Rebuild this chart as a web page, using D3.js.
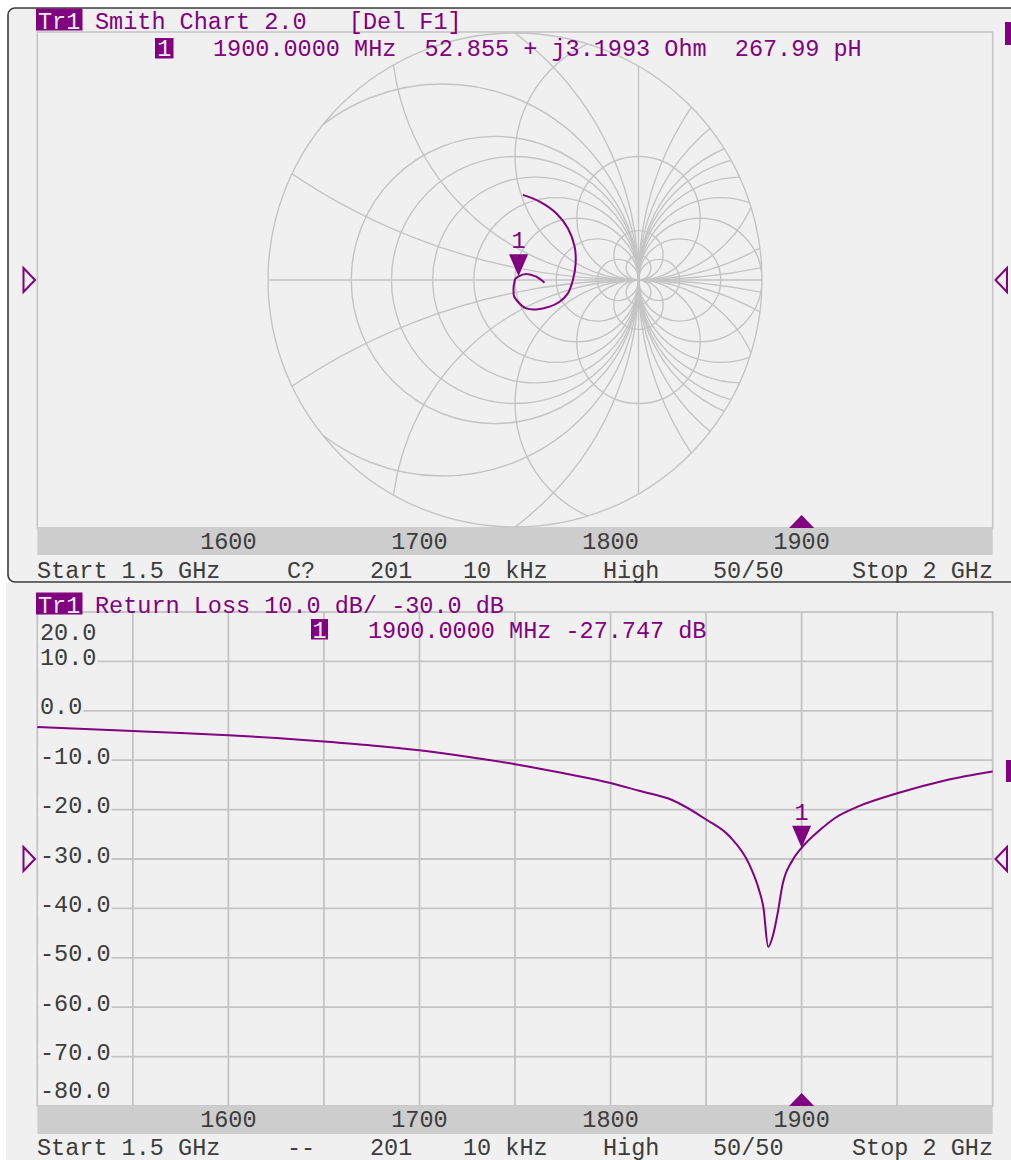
<!DOCTYPE html>
<html>
<head>
<meta charset="utf-8">
<script src="https://cdn.jsdelivr.net/npm/d3@7"></script>
<style>
  html, body { margin: 0; padding: 0; background: #ffffff; }
  svg { display: block; }
  text { white-space: pre; }
</style>
</head>
<body>
<svg id="chart" width="1011" height="1160"></svg>
<script>
// ---- sweep and axes ----
const startMHz = 1500;
const stopMHz = 2000;
const freqTicks = [1600, 1700, 1800, 1900];
const freqGrid = [1550, 1600, 1650, 1700, 1750, 1800, 1850, 1900, 1950];
const dbTicks = [20, 10, 0, -10, -20, -30, -40, -50, -60, -70, -80];
const refDb = -30;

// ---- return loss trace (MHz, dB) ----
const rlFreq = [1500, 1525, 1550, 1575, 1600, 1625, 1650, 1675, 1700, 1725, 1750, 1775,
                1800, 1815, 1832.5, 1850, 1862.5, 1872.5, 1877.5, 1880, 1882.5, 1885,
                1887.5, 1890, 1895, 1900, 1910, 1917.5, 1930, 1950, 1975, 2000];
const rlDb = [-3.3, -3.7, -4.1, -4.5, -4.95, -5.5, -6.2, -7.0, -8.0, -9.3, -10.8, -12.6,
              -14.6, -16.2, -18.1, -22.0, -25.5, -31.0, -36.0, -39.8, -47.8, -45.5,
              -40.9, -35.2, -30.4, -27.747, -24.0, -21.7, -19.3, -16.7, -14.1, -12.3];

// ---- reflection coefficient trace (MHz, Re, Im) ----
const smithFreq = [1500, 1520, 1540, 1575, 1610, 1640, 1662, 1677, 1700, 1725, 1752, 1776,
                   1808, 1830, 1850, 1865, 1875, 1882.5, 1890, 1900, 1927, 1960, 2000];
const smithRe = [0.063, 0.199, 0.334, 0.428, 0.483, 0.491, 0.469, 0.428, 0.361, 0.280, 0.172, 0.091,
                 0.023, -0.008, -0.012, -0.010, -0.005, 0.000, 0.008, 0.0287, 0.091, 0.172, 0.239];
const smithIm = [0.689, 0.635, 0.541, 0.419, 0.270, 0.135, 0.000, -0.108, -0.176, -0.216, -0.238, -0.230,
                 -0.176, -0.130, -0.081, -0.045, -0.020, 0.004, 0.014, 0.0302, 0.049, 0.027, -0.022];

// ---- Smith grid ----
// resistance circles (each also drawn mirrored about Re(Γ)=1), reactance circles
const smithScale = 2.0;
const smithR = [-0.6, -0.37, -0.14, 0, 0.2, 0.5, 1, 2, 5];
const smithX = [0.2, 0.5, 1, 2, 5, 10];

// ---- marker 1 ----
const markerMHz = 1900;
const markerDb = -27.747;
const markerOhmR = 52.855;
const markerOhmX = 3.1993;
const z0 = 50;

// ---- annotation text ----
const titleTop = "Smith Chart 2.0   [Del F1]";
const readoutTop = "1900.0000 MHz  52.855 + j3.1993 Ohm  267.99 pH";
const titleBottom = "Return Loss 10.0 dB/ -30.0 dB";
const readoutBottom = "1900.0000 MHz -27.747 dB";
const footerTop = ["Start 1.5 GHz", "C?", "201", "10 kHz", "High", "50/50", "Stop 2 GHz"];
const footerBottom = ["Start 1.5 GHz", "--", "201", "10 kHz", "High", "50/50", "Stop 2 GHz"];

// ================= drawing =================
const svg = d3.select("#chart");
const purple = "#800080";
const gridCol = "#c4c4c4";
const ink = "#3c3c3c";
const bg = "#f0f0f0";
const band = "#cdcdcd";
const FONT = "'Liberation Mono', 'DejaVu Sans Mono', monospace";
const FS = 23.5;

const plotL = 37.3, plotR = 992.7;
const topY0 = 32, topY1 = 528;
const botY0 = 612, botY1 = 1106;
const bandH = 27;
const footerX = [37, 287, 370, 463, 603, 713];

const x = d3.scaleLinear().domain([startMHz, stopMHz]).range([plotL, plotR]);
const y = d3.scaleLinear().domain([dbTicks[0], dbTicks[dbTicks.length - 1]]).range([botY0, botY1]);

// backgrounds
svg.append("rect").attr("x", 6).attr("y", 583).attr("width", 1005).attr("height", 577).attr("fill", bg);
svg.append("rect").attr("x", 8).attr("y", 8).attr("width", 1012).attr("height", 574)
  .attr("rx", 7).attr("fill", bg).attr("stroke", "#3a3a3a").attr("stroke-width", 1.6);

function txt(g, s, px, py, opts = {}) {
  return g.append("text").attr("x", px).attr("y", py)
    .attr("font-family", FONT).attr("font-size", opts.size || FS)
    .attr("fill", opts.fill || ink)
    .attr("text-anchor", opts.anchor || "start")
    .text(s);
}

// ---------- top panel: Smith chart ----------
const gTop = svg.append("g");
gTop.append("rect").attr("x", plotL).attr("y", topY0).attr("width", plotR - plotL).attr("height", topY1 - topY0)
  .attr("fill", "none").attr("stroke", gridCol).attr("stroke-width", 1.5);

const cx = (plotL + plotR) / 2, cy = (topY0 + topY1) / 2;
const Rpx = (topY1 - topY0) / 2 - 1;
const gx = d3.scaleLinear().domain([-smithScale, smithScale]).range([cx - Rpx, cx + Rpx]);
const gy = d3.scaleLinear().domain([-smithScale, smithScale]).range([cy + Rpx, cy - Rpx]);
const unit = gx(1) - gx(0);

svg.append("defs").append("clipPath").attr("id", "smithClip")
  .append("circle").attr("cx", gx(0)).attr("cy", gy(0)).attr("r", gx(smithScale) - gx(0));

const gGrid = gTop.append("g").attr("clip-path", "url(#smithClip)")
  .attr("fill", "none").attr("stroke", gridCol).attr("stroke-width", 1.4);

smithR.forEach(r => {
  const c = r / (1 + r), rad = 1 / (1 + r);
  [c, 2 - c].forEach(cc => {
    gGrid.append("circle").attr("cx", gx(cc)).attr("cy", gy(0)).attr("r", rad * unit);
  });
});
smithX.forEach(v => {
  [v, -v].forEach(s => {
    gGrid.append("circle").attr("cx", gx(1)).attr("cy", gy(1 / s)).attr("r", unit / Math.abs(s));
  });
});
gGrid.append("line").attr("x1", gx(-smithScale)).attr("x2", gx(smithScale)).attr("y1", gy(0)).attr("y2", gy(0));
gGrid.append("line").attr("x1", gx(1)).attr("x2", gx(1)).attr("y1", gy(-smithScale)).attr("y2", gy(smithScale));
gTop.append("circle").attr("cx", gx(0)).attr("cy", gy(0)).attr("r", gx(smithScale) - gx(0))
  .attr("fill", "none").attr("stroke", gridCol).attr("stroke-width", 1.4);

const smithPts = smithFreq.map((f, i) => [smithRe[i], smithIm[i]]);
gTop.append("path").datum(smithPts)
  .attr("d", d3.line().x(d => gx(d[0])).y(d => gy(d[1])).curve(d3.curveCatmullRom.alpha(0.5)))
  .attr("fill", "none").attr("stroke", purple).attr("stroke-width", 2);

// marker on the Smith trace, from the impedance readout
const zr = markerOhmR / z0, zi = markerOhmX / z0;
const den = (zr + 1) * (zr + 1) + zi * zi;
const gamRe = ((zr - 1) * (zr + 1) + zi * zi) / den;
const gamIm = (zi * (zr + 1) - (zr - 1) * zi) / den;

function markerTri(g, px, py) {
  g.append("path").attr("d", `M${px - 9.5},${py - 22} L${px + 9.5},${py - 22} L${px},${py} Z`)
    .attr("fill", purple);
  txt(g, "1", px, py - 28, { fill: purple, anchor: "middle" });
}
markerTri(gTop, gx(gamRe), gy(gamIm));

// x axis band
gTop.append("rect").attr("x", plotL).attr("y", topY1).attr("width", plotR - plotL).attr("height", bandH).attr("fill", band);
freqTicks.forEach(f => txt(gTop, String(f), x(f), topY1 + 20.5, { anchor: "middle" }));
gTop.append("path").attr("d", `M${x(markerMHz) - 12.5},${topY1} L${x(markerMHz) + 12.5},${topY1} L${x(markerMHz)},${topY1 - 13} Z`)
  .attr("fill", purple);

// reference arrows
function refArrows(g, py) {
  g.append("path").attr("d", `M23.5,${py - 12} L35,${py} L23.5,${py + 12} Z`)
    .attr("fill", "none").attr("stroke", purple).attr("stroke-width", 2);
  g.append("path").attr("d", `M1007,${py - 12} L995.5,${py} L1007,${py + 12} Z`)
    .attr("fill", "none").attr("stroke", purple).attr("stroke-width", 2);
}
refArrows(gTop, gy(0));
gTop.append("rect").attr("x", 1005).attr("y", 22).attr("width", 8).attr("height", 23).attr("fill", purple);

// header
function trBox(g, py) {
  g.append("rect").attr("x", 36).attr("y", py - 20).attr("width", 46.5).attr("height", 22).attr("fill", purple);
  txt(g, "Tr1", 38, py, { fill: "#ececec" });
}
trBox(gTop, 28.5);
txt(gTop, titleTop, 95, 28.5, { fill: purple });
gTop.append("rect").attr("x", 155).attr("y", 38).attr("width", 18.5).attr("height", 20.5).attr("fill", purple);
txt(gTop, "1", 164.3, 56, { fill: "#ececec", anchor: "middle" });
txt(gTop, readoutTop, 213, 56, { fill: purple });

// footer
function footer(g, items, py) {
  items.forEach((s, i) => {
    if (i < items.length - 1) txt(g, s, footerX[i], py);
    else txt(g, s, 993, py, { anchor: "end" });
  });
}
footer(gTop, footerTop, 577.5);

// ---------- bottom panel: return loss ----------
const gBot = svg.append("g");
const gLines = gBot.append("g").attr("stroke", gridCol).attr("stroke-width", 1.8);
freqGrid.forEach(f => gLines.append("line").attr("x1", x(f)).attr("x2", x(f)).attr("y1", botY0).attr("y2", botY1));
dbTicks.slice(1, -1).forEach(v => gLines.append("line").attr("x1", plotL).attr("x2", plotR).attr("y1", y(v)).attr("y2", y(v)));
gBot.append("rect").attr("x", plotL).attr("y", botY0).attr("width", plotR - plotL).attr("height", botY1 - botY0)
  .attr("fill", "none").attr("stroke", gridCol).attr("stroke-width", 1.8);

// y tick labels with a backing box over the grid line
dbTicks.forEach((v, i) => {
  let base = y(v) + 3.5;
  if (i === 0) base = y(v) + 28;
  if (i === dbTicks.length - 1) base = y(v) - 8;
  const t = txt(gBot, v.toFixed(1), 40, base);
  const w = t.node().getComputedTextLength();
  gBot.insert("rect", "text").attr("x", plotL + 1).attr("y", base - 17).attr("width", 40 + w - plotL).attr("height", 21).attr("fill", bg);
});

gBot.append("path").datum(rlFreq.map((f, i) => [f, rlDb[i]]))
  .attr("d", d3.line().x(d => x(d[0])).y(d => y(d[1])).curve(d3.curveMonotoneX))
  .attr("fill", "none").attr("stroke", purple).attr("stroke-width", 2);

markerTri(gBot, x(markerMHz), y(markerDb));

gBot.append("rect").attr("x", plotL).attr("y", botY1).attr("width", plotR - plotL).attr("height", bandH + 1).attr("fill", band);
freqTicks.forEach(f => txt(gBot, String(f), x(f), botY1 + 20.5, { anchor: "middle" }));
gBot.append("path").attr("d", `M${x(markerMHz) - 12.5},${botY1} L${x(markerMHz) + 12.5},${botY1} L${x(markerMHz)},${botY1 - 13} Z`)
  .attr("fill", purple);

refArrows(gBot, y(refDb));
gBot.append("rect").attr("x", 1006).attr("y", 760).attr("width", 8).attr("height", 22).attr("fill", purple);

trBox(gBot, 612.5);
txt(gBot, titleBottom, 95, 612.5, { fill: purple });
gBot.append("rect").attr("x", 311).attr("y", 619).attr("width", 17).attr("height", 20.5).attr("fill", purple);
txt(gBot, "1", 319.5, 637.5, { fill: "#ececec", anchor: "middle" });
txt(gBot, readoutBottom, 368, 638, { fill: purple });

footer(gBot, footerBottom, 1154.5);
</script>
</body>
</html>
